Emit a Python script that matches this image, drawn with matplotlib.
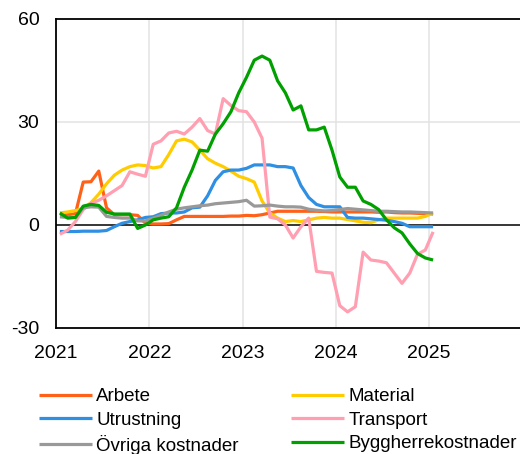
import matplotlib
matplotlib.use("Agg")
import matplotlib.pyplot as plt
import numpy as np

plt.rcParams['font.family'] = ['Liberation Sans', 'DejaVu Sans']
plt.rcParams['axes.unicode_minus'] = False

# Monthly series, January 2021 - January 2025 (percent change)
start_year = 2021
arbete = [3, 3, 3.3, 12.5, 12.6, 15.7, 5, 3, 3, 3, 2.8, 0.5, 0.3, 0.3, 0.4, 1.5,
          2.5, 2.5, 2.5, 2.5, 2.5, 2.5, 2.6, 2.6, 2.8, 2.7, 3, 3.5, 4, 4, 4, 4,
          4, 4, 3.9, 3.8, 3.8, 3.8, 3.8, 3.8, 3.8, 3.7, 3.8, 3.6, 3.5, 3.5, 3.4,
          3.3, 3.2]
material = [3.5, 3.8, 4.2, 4.8, 6.5, 9, 12, 14.5, 16, 17, 17.5, 17.3, 16.6, 17,
            20.5, 24.5, 25, 24.2, 21.8, 19.3, 18, 17, 15.7, 14.2, 13.5, 12.5, 7,
            3.5, 2, 1, 1.3, 1, 1.5, 2, 2.2, 2, 2, 1.6, 1.2, 0.8, 0.7, 1.5, 2, 2,
            2, 2, 2, 2.5, 3.5]
utrustning = [-1.9, -1.9, -1.9, -1.8, -1.8, -1.8, -1.6, -0.5, 0.5, 1, 1.5, 2.2,
              2.4, 3.3, 3.5, 3.5, 3.8, 5, 5.2, 8.5, 13, 15.5, 16, 16, 16.5, 17.5,
              17.5, 17.5, 17, 17, 16.6, 11.5, 8, 6, 5.3, 5.3, 5.3, 2.2, 2, 2, 1.8,
              1.6, 1.4, 1, 0.5, -0.5, -0.5, -0.5, -0.5]
transport = [-2.7, -1.5, 1, 4.5, 6.3, 7.2, 8.5, 10, 11.5, 15.5, 14.8, 14.2, 23.5,
             24.5, 26.8, 27.3, 26.5, 28.5, 31, 27.5, 26.5, 36.8, 34.8, 33.3, 33,
             30, 25.3, 2.3, 1.8, 0, -3.8, -0.5, 2, -13.5, -13.8, -14, -23.5,
             -25.3, -23.8, -7.9, -10.2, -10.5, -11, -14, -17, -14, -8.5, -7.3, -2]
ovriga = [2.4, 2.2, 2.2, 5, 5.3, 5.2, 2.5, 2.2, 2, 2, 1.2, 1.2, 2, 2.8, 3.8, 4.6,
          5, 5.3, 5.6, 5.8, 6.2, 6.4, 6.6, 6.8, 7.2, 5.5, 5.6, 5.8, 5.5, 5.3, 5.3,
          5.2, 4.6, 4.3, 4.1, 4.2, 4.5, 4.8, 4.6, 4.4, 4.2, 4, 4, 3.9, 3.8, 3.8,
          3.7, 3.6, 3.5]
byggherre = [3.5, 2, 2.2, 5.5, 6, 5.7, 3.7, 3.2, 3.2, 3.2, -1, 0, 1.5, 2, 2.4, 5,
             11, 16, 21.8, 21.5, 26.5, 29.5, 33, 38.5, 43, 48, 49.2, 48, 42, 38.5,
             33.5, 34.7, 27.7, 27.7, 28.5, 21.8, 14, 11, 11, 7, 6, 4.5, 1.5, -0.8,
             -2.3, -5.5, -8.3, -9.6, -10.2]

labels = ["Arbete", "Material", "Utrustning", "Transport",
          "Övriga kostnader", "Byggherrekostnader"]
colors = ["#FF6119", "#FFCC00", "#2F8FE3", "#FF9FB1", "#999999", "#00A000"]
series = [arbete, material, utrustning, transport, ovriga, byggherre]

year_ticks = [2021, 2022, 2023, 2024, 2025]
y_ticks = [-30, 0, 30, 60]

fig = plt.figure(figsize=(5.2, 4.54), dpi=100)
ax = fig.add_axes([56 / 520, 1 - 328 / 454, (522.5 - 56) / 520, (328 - 19) / 454])

n = len(arbete)
x = start_year + (np.arange(n) + 0.5) / 12.0

handles = {}
for lab, col, vals in zip(labels, colors, series):
    h, = ax.plot(x, vals, color=col, lw=2.3, solid_joinstyle='round',
                 solid_capstyle='butt', zorder=3)
    handles[lab] = h

ax.set_xlim(2021, 2026)
ax.set_ylim(-30, 60)
ax.set_xticks(year_ticks)
ax.set_xticklabels([str(y) for y in year_ticks])
ax.set_yticks(y_ticks)

# light grid: verticals at year boundaries, horizontal at 30
for yr in [2022, 2023, 2024, 2025, 2026]:
    ax.axvline(yr, color="#E3E3E3", lw=1.1, zorder=1)
ax.axhline(30, color="#E3E3E3", lw=1.1, zorder=1)
ax.axhline(0, color="black", lw=1.1, zorder=2)

for side in ["left", "top", "bottom"]:
    ax.spines[side].set_linewidth(1.3)
    ax.spines[side].set_color("black")
ax.spines["right"].set_visible(False)

ax.tick_params(axis="both", length=0, labelsize=14)
ax.tick_params(axis="y", pad=12)
ax.tick_params(axis="x", pad=12)

order = ["Arbete", "Utrustning", "Övriga kostnader",
         "Material", "Transport", "Byggherrekostnader"]
fig.legend([handles[k] for k in order], order, ncol=2, loc="upper left",
           bbox_to_anchor=(39 / 520, 1 - 388 / 454), frameon=False,
           fontsize=13.5, handlelength=2.8, handletextpad=0.25,
           columnspacing=2.8, labelspacing=0.34, borderpad=0, borderaxespad=0)

fig.savefig("out.png", dpi=100)
